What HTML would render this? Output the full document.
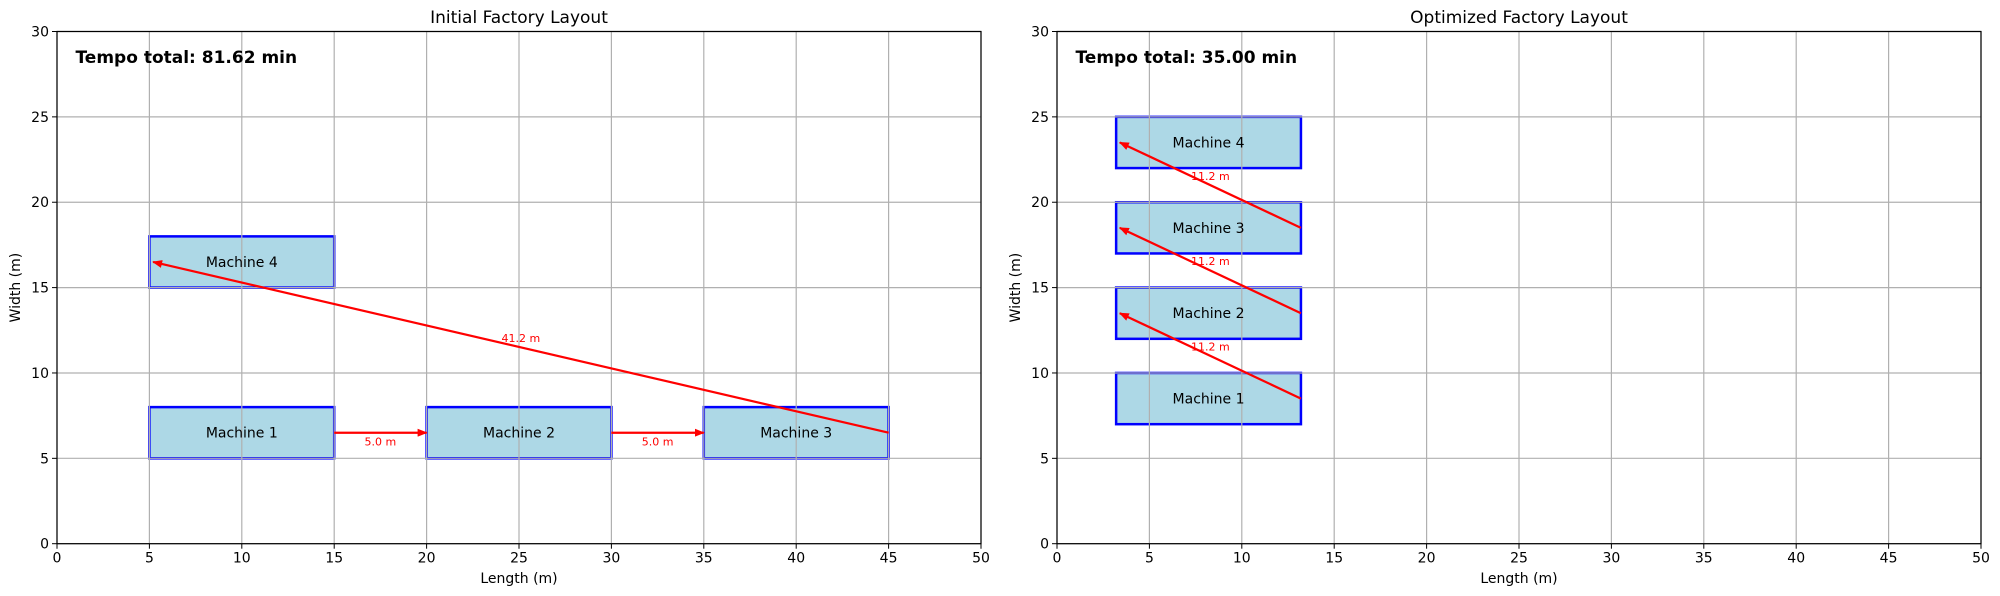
<!DOCTYPE html>
<html><head><meta charset="utf-8"><style>
html,body{margin:0;padding:0;background:#fff;}
svg{display:block;font-family:"DejaVu Sans","Liberation Sans",sans-serif;}
</style></head><body>
<svg id="c" width="2000" height="596" xmlns="http://www.w3.org/2000/svg"></svg>
<script>
const ticksX=[0,5,10,15,20,25,30,35,40,45,50];
const ticksY=[0,5,10,15,20,25,30];
const panelTitles=["Initial Factory Layout","Optimized Factory Layout"];
const totalTimes=["Tempo total: 81.62 min","Tempo total: 35.00 min"];
const machineNames=["Machine 1","Machine 2","Machine 3","Machine 4"];
const initX=[5,20,35,5];
const initY=[5,5,5,15];
const optX=[3.2,3.2,3.2,3.2];
const optY=[7,12,17,22];
const machW=10, machH=3;
const initDist=["5.0 m","5.0 m","41.2 m"];
const optDist=["11.2 m","11.2 m","11.2 m"];

const NS="http://www.w3.org/2000/svg";
const svg=document.getElementById('c');
function mk(tag,attrs,parent,text){const e=document.createElementNS(NS,tag);for(const k in attrs)e.setAttribute(k,attrs[k]);if(text!==undefined)e.textContent=text;(parent||svg).appendChild(e);return e;}
const defs=mk('defs',{});
const mkr=mk('marker',{id:'ah',markerWidth:'10',markerHeight:'8',refX:'9',refY:'4',orient:'auto',markerUnits:'userSpaceOnUse'},defs);
mk('path',{d:'M0,0 L10,4 L0,8 Z',fill:'#ff0000'},mkr);

function panel(idx,left,xs,ys,dists){
  const top=31.5,bottom=543.7,W=924;
  const sx=v=>left+v/50*W, sy=v=>bottom-v/30*(bottom-top);
  const g=mk('g',{});
  
  
  // machines
  for(let i=0;i<xs.length;i++){
    const r=mk('rect',{x:sx(xs[i]),y:sy(ys[i]+machH),width:sx(xs[i]+machW)-sx(xs[i]),height:sy(ys[i])-sy(ys[i]+machH),fill:'#add8e6',stroke:'#0000ff','stroke-width':'2.5'},g);
    
    
  }
  // grid
  ticksX.forEach(t=>{const l=mk('line',{x1:sx(t),x2:sx(t),y1:top,y2:bottom,stroke:'#b0b0b0','stroke-width':'1.2'},g);});
  ticksY.forEach(t=>{const l=mk('line',{x1:left,x2:left+W,y1:sy(t),y2:sy(t),stroke:'#b0b0b0','stroke-width':'1.2'},g);});
  // machine labels
  for(let i=0;i<xs.length;i++){
    const t=mk('text',{x:sx(xs[i]+machW/2),y:sy(ys[i]+machH/2)+5,'font-size':'14','text-anchor':'middle',fill:'#000'},g,machineNames[i]);
    
    
  }
  // arrows: from right-center of i to left-center of i+1
  for(let i=0;i<xs.length-1;i++){
    const x1=xs[i]+machW,y1=ys[i]+machH/2,x2=xs[i+1]+0.3*(xs[i+1]<x1?1:0),y2=ys[i+1]+machH/2;
    const ax2=xs[i+1]<x1?xs[i+1]+0.2:xs[i+1];
    const a=mk('line',{x1:sx(x1),y1:sy(y1),x2:sx(ax2),y2:sy(y2),stroke:'#ff0000','stroke-width':'2.2','marker-end':'url(#ah)'},g);
    
    
    const horiz=(y1===y2);
    const lx=(x1+ax2)/2, ly=(y1+y2)/2+(horiz?-0.5:0.55);
    const t=mk('text',{x:sx(lx),y:sy(ly)+4,'font-size':'11','text-anchor':'middle',fill:'#ff0000'},g,dists[i]);
    
    
  }
  // axes frame
  const fr=mk('rect',{x:left,y:top,width:W,height:bottom-top,fill:'none',stroke:'#000','stroke-width':'1.2'},g);
  
  ticksX.forEach(t=>{mk('line',{x1:sx(t),x2:sx(t),y1:bottom,y2:bottom+5,stroke:'#000'},g);
    const tx=mk('text',{x:sx(t),y:bottom+19,'font-size':'14','text-anchor':'middle',fill:'#000'},g,String(t));
    });
  ticksY.forEach(t=>{mk('line',{x1:left-5,x2:left,y1:sy(t),y2:sy(t),stroke:'#000'},g);
    const tx=mk('text',{x:left-8,y:sy(t)+5,'font-size':'14','text-anchor':'end',fill:'#000'},g,String(t));
    });
  const ti=mk('text',{x:left+W/2,y:23,'font-size':'17','text-anchor':'middle',fill:'#000'},g,panelTitles[idx]);
  
  const xl=mk('text',{x:left+W/2,y:583,'font-size':'14','text-anchor':'middle',fill:'#000'},g,'Length (m)');
  
  const yl=mk('text',{x:0,y:0,'font-size':'14','text-anchor':'middle',fill:'#000',transform:`translate(${left-37},${(top+bottom)/2}) rotate(-90)`},g,'Width (m)');
  
  const tt=mk('text',{x:sx(1),y:sy(28.5)+6,'font-size':'17','font-weight':'bold',fill:'#000'},g,totalTimes[idx]);
  
}
panel(0,57,initX,initY,initDist);
panel(1,1057,optX,optY,optDist);
</script>
</body></html>
